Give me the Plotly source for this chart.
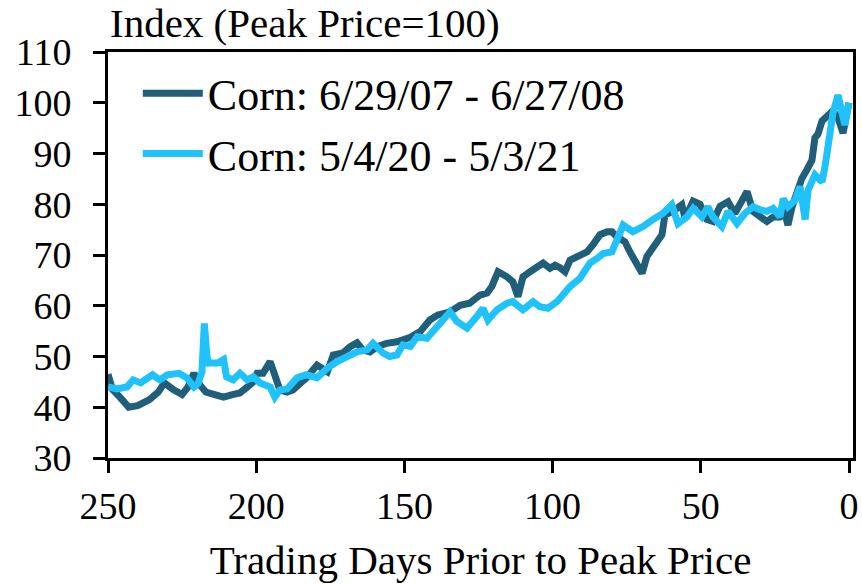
import plotly.graph_objects as go

# Corn: 6/29/07 - 6/27/08 (trading days prior to peak, index)
days_0708 = [250, 248.5, 246, 243, 240, 237, 236, 233, 231, 228, 225, 223, 221, 219, 217, 214, 211, 208,
             205.5, 203, 201, 199.7, 197.7, 195.3, 193.7, 192, 189.6, 187.6, 185, 183, 179.5, 176, 174,
             170.7, 168.4, 166, 164, 161.6, 159.3, 156, 152.5, 148, 144.7, 141.4, 138.7, 134.6, 131.2,
             128, 124.5, 122.1, 120.5, 118.4, 115.4, 113.4, 111.7, 110, 107.6, 105.3, 103.2, 100.9, 99.2,
             97.5, 95.8, 94.1, 90.8, 88.4, 86.4, 84, 81.6, 80, 78.3, 75.6, 73.9, 71.5, 69.8, 68.2, 66.1,
             63.1, 62.1, 59.4, 56.4, 55.3, 52.6, 50.3, 47.9, 45.9, 43.5, 40.8, 38.5, 36.1, 34.4, 32.4, 30,
             27.7, 25.6, 23.3, 21.6, 20.6, 19.2, 17.6, 15.9, 14.2, 12.5, 11.5, 10.5, 9.1, 7.4, 6.4, 5.4,
             3.7, 2, 0.7, 0]
index_0708 = [46.5, 43.5, 42, 40, 40.3, 41, 41.5, 43, 44.8, 43.5, 42.5, 44, 46.7, 44.4, 43, 42.5, 42, 42.5,
              42.8, 44, 45, 46.7, 46.7, 49, 46.4, 43.4, 43, 43.4, 44.8, 45.8, 48.3, 47, 50.3,
              50.7, 51.9, 52.7, 51.3, 50.9, 51.9, 52.6, 52.9, 53.8, 54.9, 57.2, 58.2, 58.8, 60.1,
              60.5, 62.1, 62.5, 63.8, 66.7, 65.7, 64.7, 61.8, 65.7, 66.7, 67.4, 68.4, 67.4, 68,
              67.5, 66.7, 69, 70, 70.6, 72, 74, 74.6, 74.6, 73.6, 72.6, 70.6, 68.4, 66.4, 69.7, 71.3,
              74, 77.9, 78.6, 79.9, 77.2, 80.6, 80, 77, 76.6, 79.6, 80.5, 78.2, 81.1, 82.5, 78.6, 77.5,
              76.6, 77.5, 77.5, 78.2, 75.9, 79.5, 82.1, 85.1, 86.8, 88.7, 93.1, 93.8, 96.4, 97.4, 98, 98.4,
              97, 94, 98, 100]

# Corn: 5/4/20 - 5/3/21
days_2021 = [250, 247, 243.6, 241.5, 239, 235, 232.5, 230, 226, 223.4, 221, 219.6, 218.3, 217.5, 216.6, 216,
             213, 211, 210, 207.8, 205.5, 203, 201, 198.7, 195.3, 193.7, 192, 189.6, 186.2, 183, 179.5,
             176, 172.7, 169.4, 166, 162.6, 160.6, 157.2, 155, 152.5, 150.5, 148, 145.7, 142.4, 139,
             134.6, 132.3, 128.9, 125.5, 123.5, 121.8, 118.8, 115.4, 113.4, 110, 106.6, 104.3, 101.6,
             98.5, 97.5, 94.1, 90.8, 87.4, 85, 83, 80, 78.3, 76.2, 72.9, 69.5, 66.1, 62.8, 59.8, 57.7,
             54.7, 52.6, 49.6, 47.6, 45.9, 42.9, 40.8, 37.8, 35.1, 32.4, 30, 27.7, 25.6, 23.3, 22.2, 20.6,
             18.2, 16.5, 14.8, 13.8, 11.5, 9.1, 8.1, 6.4, 5.4, 3.7, 2.4, 1.4, 0.3, 0]
index_2021 = [44, 43.6, 44, 45.4, 44.8, 46.4, 45.4, 46.4, 46.7, 45.8, 44, 44.7, 47, 56.5, 50, 48.7,
              48.7, 49.4, 46, 45.4, 46.7, 45.4, 46, 44.8, 44, 42, 43.4, 43.6, 45.8, 46.4, 45.8,
              47.7, 49, 50, 50.9, 51.3, 52.6, 50.7, 50, 50.3, 52.3, 52, 53.9, 53.6, 55.9,
              58.8, 56.9, 55.6, 57.9, 59.5, 57.2, 59.2, 60.5, 60.8, 59.2, 60.8, 59.8, 59.5,
              60.8, 61.5, 63.8, 65.4, 68.4, 69.3, 70.3, 70.6, 73.3, 75.9, 74.6, 75.6, 77, 78.2, 79.9, 76.2,
              77.5, 79.2, 77.5, 79.5, 77.5, 75.6, 78.6, 76.2, 78.2, 79.5, 78.9, 78.6, 79.2, 77.5, 81.1, 79.5,
              80.8, 83.5, 77, 82.8, 85.8, 84.4, 87.4, 94.6, 98, 101.5, 98.6, 95.6, 99.2, 100]

x_ticks = [250, 200, 150, 100, 50, 0]
y_ticks = [30, 40, 50, 60, 70, 80, 90, 100, 110]

DARK = "#215e79"
LIGHT = "#1fc2fb"
FONT = "Liberation Serif"

fig = go.Figure()
fig.add_trace(go.Scatter(x=days_0708, y=index_0708, mode="lines", name="Corn: 6/29/07 - 6/27/08",
                         line=dict(color=DARK, width=7), legendgroup="a"))
fig.add_trace(go.Scatter(x=days_2021, y=index_2021, mode="lines", name="Corn: 5/4/20 - 5/3/21",
                         line=dict(color=LIGHT, width=7), legendgroup="b"))

fig.update_layout(
    width=862, height=585,
    margin=dict(l=108, r=9, t=52, b=127),
    plot_bgcolor="white", paper_bgcolor="white",
    font=dict(family=FONT, size=38, color="black"),
    showlegend=True,
    legend=dict(x=0.04, y=0.985, xanchor="left", yanchor="top", bgcolor="rgba(0,0,0,0)",
                font=dict(family=FONT, size=44, color="black"), traceorder="grouped",
                tracegroupgap=0, itemwidth=60),
    annotations=[dict(text="Index (Peak Price=100)", xref="paper", yref="paper", x=0, y=1,
                      xanchor="left", yanchor="bottom", yshift=4, showarrow=False,
                      font=dict(family=FONT, size=41, color="black"))],
)
fig.update_xaxes(range=[250, -1.35], tickvals=x_ticks, ticks="outside", ticklen=12, tickwidth=2.5,
                 tickcolor="black", showline=True, linecolor="black", linewidth=3, mirror=True,
                 showgrid=False, zeroline=False, automargin=False,
                 title=dict(text="Trading Days Prior to Peak Price", font=dict(family=FONT, size=41),
                            standoff=20))
fig.update_yaxes(range=[30, 110], tickvals=y_ticks, ticks="outside", ticklen=12, tickwidth=2.5,
                 tickcolor="black", showline=True, linecolor="black", linewidth=3, mirror=True,
                 showgrid=False, zeroline=False, ticklabelstandoff=14, automargin=False)

fig.write_html("out.html", config={"displayModeBar": False},
               post_script="document.body.style.margin='0';")
